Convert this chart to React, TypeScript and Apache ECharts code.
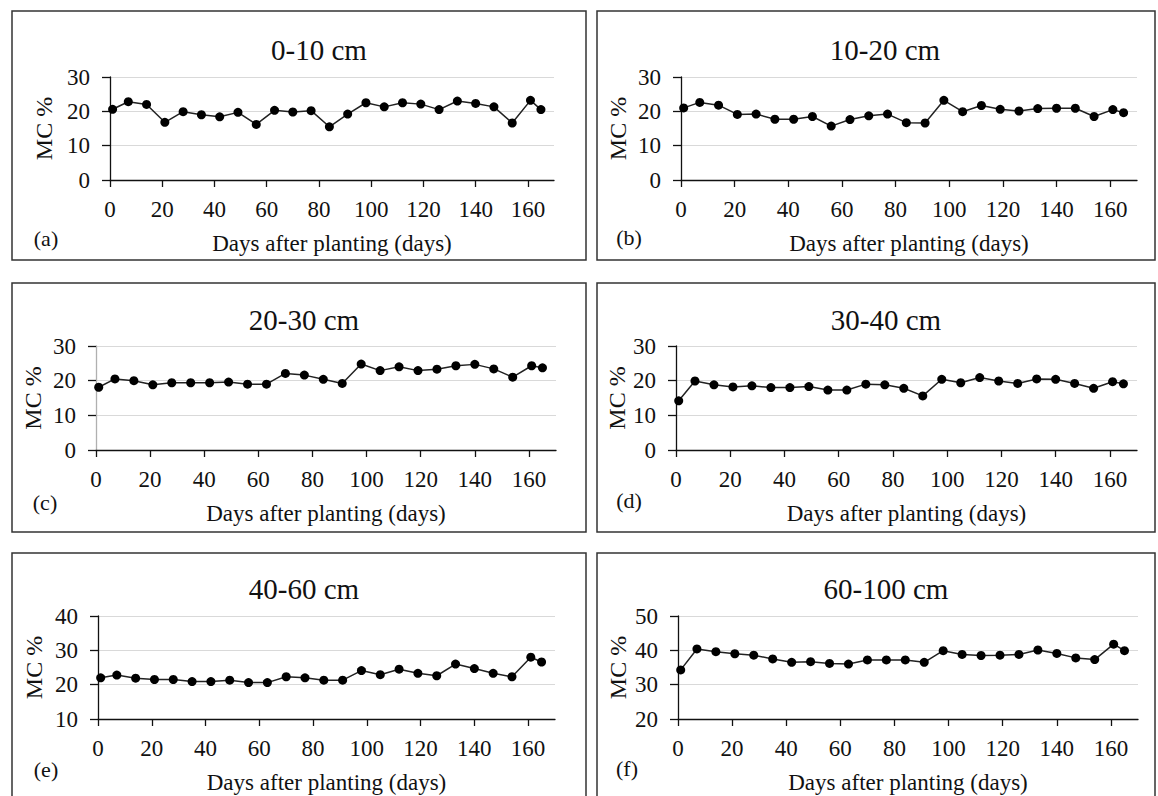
import React, { useEffect, useRef } from "react";
import * as echarts from "echarts";

const days = [1, 7, 14, 21, 28, 35, 42, 49, 56, 63, 70, 77, 84, 91, 98, 105, 112, 119, 126, 133, 140, 147, 154, 161, 165];
const xTicks = [0, 20, 40, 60, 80, 100, 120, 140, 160];

const mc0_10 = [20.6, 22.8, 22.0, 16.8, 19.9, 19.0, 18.4, 19.7, 16.2, 20.3, 19.8, 20.2, 15.5, 19.2, 22.5, 21.3, 22.5, 22.1, 20.5, 23.0, 22.3, 21.3, 16.6, 23.2, 20.5];
const mc10_20 = [21.0, 22.6, 21.8, 19.1, 19.2, 17.7, 17.7, 18.5, 15.7, 17.6, 18.7, 19.2, 16.7, 16.6, 23.2, 19.9, 21.7, 20.6, 20.1, 20.8, 20.9, 20.9, 18.5, 20.5, 19.6];
const mc20_30 = [18.1, 20.5, 20.0, 18.8, 19.4, 19.4, 19.4, 19.6, 19.0, 19.0, 22.1, 21.6, 20.4, 19.2, 24.8, 22.9, 24.0, 22.9, 23.3, 24.3, 24.7, 23.4, 21.0, 24.3, 23.7];
const mc30_40 = [14.2, 19.9, 18.8, 18.2, 18.5, 18.0, 18.0, 18.3, 17.3, 17.3, 19.0, 18.8, 17.8, 15.6, 20.4, 19.4, 20.9, 19.9, 19.2, 20.5, 20.4, 19.2, 17.8, 19.7, 19.1];
const mc40_60 = [22.0, 22.8, 21.9, 21.5, 21.5, 20.9, 20.9, 21.3, 20.6, 20.6, 22.3, 22.0, 21.3, 21.3, 24.1, 22.9, 24.5, 23.3, 22.6, 26.0, 24.7, 23.3, 22.3, 28.0, 26.6];
const mc60_100 = [34.3, 40.4, 39.6, 39.0, 38.6, 37.5, 36.5, 36.7, 36.2, 36.0, 37.2, 37.2, 37.2, 36.5, 39.9, 38.8, 38.5, 38.6, 38.8, 40.1, 39.1, 37.8, 37.3, 41.8, 39.9];

const titles = ["0-10 cm", "10-20 cm", "20-30 cm", "30-40 cm", "40-60 cm", "60-100 cm"];
const letters = ["(a)", "(b)", "(c)", "(d)", "(e)", "(f)"];
const yRanges = [
  [0, 30],
  [0, 30],
  [0, 30],
  [0, 30],
  [10, 40],
  [20, 50],
];
const seriesValues = [mc0_10, mc10_20, mc20_30, mc30_40, mc40_60, mc60_100];
const xName = "Days after planting (days)";
const yName = "MC %";

// layout (pixels)
const grids = [
  { left: 110, top: 77, width: 444, height: 103, yGap: 54, yLine: "#111", titleX: 319, titleY: 50, letterX: 46, letterY: 238 },
  { left: 681, top: 77, width: 456, height: 103, yGap: 51, yLine: "#111", titleX: 885, titleY: 50, letterX: 629, letterY: 237 },
  { left: 96, top: 346, width: 460, height: 104, yGap: 51, yLine: "#b0b0b0", titleX: 304, titleY: 320, letterX: 45, letterY: 502 },
  { left: 676, top: 346, width: 461, height: 104, yGap: 47, yLine: "#111", titleX: 886, titleY: 320, letterX: 629, letterY: 500 },
  { left: 98, top: 616, width: 457, height: 103, yGap: 52, yLine: "#111", titleX: 304, titleY: 589, letterX: 46, letterY: 769 },
  { left: 678, top: 616, width: 460, height: 103, yGap: 48, yLine: "#111", titleX: 886, titleY: 589, letterX: 627, letterY: 768 },
];
const boxes = [
  { x: 12, y: 11, w: 574, h: 249 },
  { x: 597, y: 11, w: 558, h: 249 },
  { x: 12, y: 283, w: 574, h: 249 },
  { x: 597, y: 283, w: 558, h: 249 },
  { x: 12, y: 553, w: 574, h: 250 },
  { x: 597, y: 553, w: 558, h: 250 },
];

const FONT = "Liberation Serif";

export default function App() {
  const ref = useRef<HTMLDivElement>(null);
  useEffect(() => {
    if (!ref.current) return;
    const chart = echarts.init(ref.current, null, { renderer: "svg" });
    const option: any = {
      animation: false,
      backgroundColor: "#ffffff",
      textStyle: { fontFamily: FONT },
      title: grids.map((g, i) => ({
        text: titles[i],
        left: g.titleX,
        top: g.titleY - 15,
        padding: 0,
        textAlign: "center",
        textStyle: { fontFamily: FONT, fontSize: 29, fontWeight: "normal", color: "#111" },
      })),
      grid: grids.map((g) => ({ left: g.left, top: g.top, width: g.width, height: g.height, containLabel: false })),
      xAxis: grids.map((g, i) => ({
        type: "value",
        gridIndex: i,
        min: 0,
        max: 170,
        interval: 20,
        name: xName,
        nameLocation: "middle",
        nameGap: 52,
        nameTextStyle: { fontFamily: FONT, fontSize: 23, color: "#111" },
        axisLine: { show: true, onZero: false, lineStyle: { color: "#111", width: 1.3 } },
        axisTick: { show: true, length: 7, inside: false, customValues: xTicks, lineStyle: { color: "#111", width: 1.3 } },
        axisLabel: { customValues: xTicks, margin: 18, fontFamily: FONT, fontSize: 23, color: "#111" },
        splitLine: { show: false },
      })),
      yAxis: grids.map((g, i) => ({
        type: "value",
        gridIndex: i,
        min: yRanges[i][0],
        max: yRanges[i][1],
        interval: 10,
        name: yName,
        nameLocation: "middle",
        nameGap: g.yGap,
        nameTextStyle: { fontFamily: FONT, fontSize: 24, color: "#111" },
        axisLine: { show: true, lineStyle: { color: g.yLine, width: 1.3 } },
        axisTick: { show: true, length: 8, lineStyle: { color: "#111", width: 1.3 } },
        axisLabel: { margin: 20, fontFamily: FONT, fontSize: 23, color: "#111" },
        splitLine: { show: true, lineStyle: { color: "#d9d9d9", width: 1 } },
      })),
      series: seriesValues.map((vals, i) => ({
        type: "line",
        xAxisIndex: i,
        yAxisIndex: i,
        data: days.map((d, k) => [d, vals[k]]),
        symbol: "circle",
        symbolSize: 9,
        lineStyle: { color: "#222", width: 1.5 },
        itemStyle: { color: "#000" },
      })),
      graphic: [
        ...boxes.map((b) => ({
          type: "rect",
          shape: { x: b.x, y: b.y, width: b.w, height: b.h },
          style: { fill: "none", stroke: "#333", lineWidth: 1.5 },
          silent: true,
        })),
        ...grids.map((g, i) => ({
          type: "text",
          x: g.letterX,
          y: g.letterY,
          style: {
            text: letters[i],
            fontFamily: FONT,
            fontSize: 22,
            fill: "#111",
            textAlign: "center",
            textVerticalAlign: "middle",
          },
        })),
      ],
    };
    chart.setOption(option);
    return () => chart.dispose();
  }, []);
  return (
    <div
      ref={ref}
      style={{ position: "absolute", left: 0, top: 0, width: 1158, height: 796, background: "#fff" }}
    />
  );
}
